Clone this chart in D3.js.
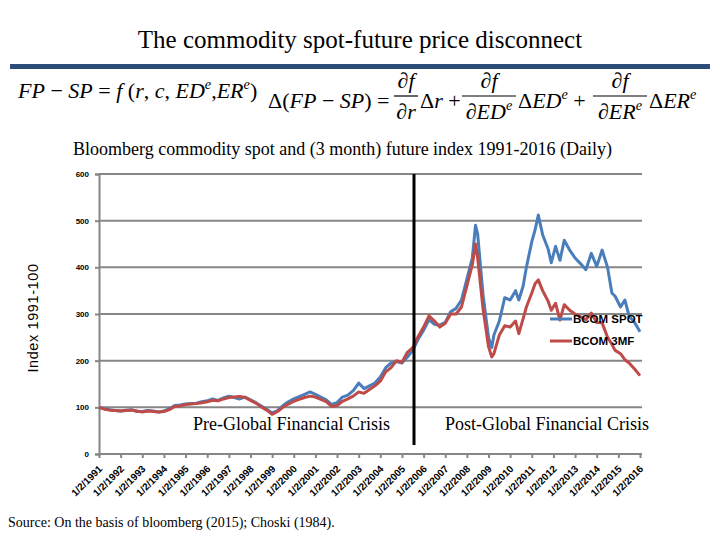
<!DOCTYPE html>
<html><head><meta charset="utf-8">
<script src="https://cdn.jsdelivr.net/npm/d3@7"></script>
<style>body{margin:0;background:#fff}svg{display:block}</style>
</head><body>
<script>
// ---- data (decimal year, BCOM SPOT, BCOM 3MF) ----
const years = [1991,1991.25,1991.5,1991.75,1992,1992.25,1992.5,1992.75,1993,1993.25,1993.5,1993.75,1994,1994.25,1994.5,1994.75,1995,1995.25,1995.5,1995.75,1996,1996.25,1996.5,1996.75,1997,1997.25,1997.5,1997.75,1998,1998.25,1998.5,1998.75,1999,1999.25,1999.5,1999.75,2000,2000.25,2000.5,2000.75,2001,2001.25,2001.5,2001.75,2002,2002.25,2002.5,2002.75,2003,2003.25,2003.5,2003.75,2004,2004.25,2004.5,2004.75,2005,2005.25,2005.5,2005.75,2006,2006.25,2006.5,2006.75,2007,2007.25,2007.5,2007.75,2008,2008.25,2008.4,2008.5,2008.75,2009,2009.15,2009.25,2009.5,2009.75,2010,2010.25,2010.4,2010.6,2010.75,2011,2011.15,2011.3,2011.5,2011.75,2011.9,2012.1,2012.3,2012.5,2012.75,2013,2013.25,2013.5,2013.75,2014,2014.25,2014.5,2014.7,2014.85,2015.1,2015.3,2015.5,2015.75,2016];
const spot = [100,97,95,93,92,94,95,91,91,93,92,90,92,97,104,105,107,108,109,112,114,118,115,120,124,121,118,122,116,110,103,96,88,93,104,112,118,123,128,133,128,122,116,106,110,122,126,136,152,140,146,152,165,185,195,198,195,208,222,246,265,288,278,276,282,305,312,330,375,420,490,470,340,250,228,255,285,335,330,350,330,360,400,455,480,512,470,440,410,445,415,458,437,420,408,395,430,402,437,400,345,338,315,330,295,282,262];
const fut = [100,96,94,93,92,93,94,92,90,92,91,90,91,95,102,103,106,107,108,110,112,115,114,118,121,122,123,121,115,109,101,94,85,91,100,107,113,117,121,124,122,117,112,102,104,113,118,124,133,130,138,146,156,176,185,200,196,218,228,252,272,296,285,272,280,300,300,315,360,405,450,420,310,230,208,215,255,275,272,285,258,290,315,345,365,373,350,328,308,323,287,320,308,300,294,288,302,282,281,250,235,222,215,202,195,182,168];
const yTicks = [0,100,200,300,400,500,600];
const xTickYears = d3.range(1991, 2017);
const seriesNames = ["BCOM SPOT","BCOM 3MF"];
const seriesColors = ["#4a7ebb","#be4b48"];

const W = 720, H = 540;
const svg = d3.select("body").append("svg").attr("width", W).attr("height", H);

const x = d3.scaleLinear().domain([1991, 2016]).range([99, 640]);
const y = d3.scaleLinear().domain([0, 600]).range([454, 174]);

const serif = "Liberation Serif, Times New Roman, serif";
const sans = "Liberation Sans, Arial, sans-serif";

// title
svg.append("text").attr("x", 360).attr("y", 48).attr("text-anchor", "middle")
  .attr("font-family", serif).attr("font-size", 25)
  .text("The commodity spot-future price disconnect");
svg.append("rect").attr("x", 10).attr("y", 64).attr("width", 700).attr("height", 5).attr("fill", "#2c4d78");

// formulas
function t(xp, yp, size, anchor, parts) {
  const el = svg.append("text").attr("x", xp).attr("y", yp).attr("font-size", size)
    .attr("font-family", serif).attr("text-anchor", anchor || "start");
  parts.forEach(p => {
    const s = el.append("tspan").text(p[0]);
    if (p[1] === "i") s.attr("font-style", "italic");
    if (p[1] === "sup") s.attr("font-style", "italic").attr("font-size", size * 0.65).attr("dy", -size * 0.4);
    if (p[2] === "down") s.attr("dy", size * 0.4);
  });
  return el;
}
t(18, 98, 22, "start", [["FP","i"],[" − "],["SP","i"],[" = "],["f","i"],[" ("],["r","i"],[", "],["c","i"],[", "],["ED","i"],["e","sup"],[",","", "down"],["ER","i"],["e","sup"],[")","", "down"]]);
t(268, 108, 22, "start", [["Δ("],["FP","i"],[" − "],["SP","i"],[") ="]]);
function frac(cx, den) {
  t(cx, 88, 22, "middle", [["∂"],["f","i"]]);
  svg.append("line").attr("x1", cx - (den.length > 1 ? 27 : 12)).attr("x2", cx + (den.length > 1 ? 27 : 12))
    .attr("y1", 96).attr("y2", 96).attr("stroke", "#000").attr("stroke-width", 1.2);
  const parts = [["∂"],[den[0],"i"]];
  if (den.length > 1) parts.push(["e","sup"]);
  t(cx, 119, 22, "middle", parts);
}
frac(406, ["r"]);
t(420, 108, 22, "start", [["Δ"],["r","i"],["  +"]]);
frac(489, ["ED","e"]);
t(518, 108, 22, "start", [["Δ"],["ED","i"],["e","sup"],["  +","","down"]]);
frac(620, ["ER","e"]);
t(649, 108, 22, "start", [["Δ"],["ER","i"],["e","sup"]]);

// subtitle
svg.append("text").attr("x", 73).attr("y", 155)
  .attr("font-family", serif).attr("font-size", 18)
  .text("Bloomberg commodity spot and (3 month) future index 1991-2016 (Daily)");

// gridlines
svg.append("g").selectAll("line").data(yTicks.slice(1)).join("line")
  .attr("x1", 99).attr("x2", 642).attr("y1", d => y(d)).attr("y2", d => y(d))
  .attr("stroke", "#868686").attr("stroke-width", 2);

// y axis
const ya = svg.append("g").attr("transform", "translate(99,0)")
  .call(d3.axisLeft(y).tickValues(yTicks).tickSize(4).tickPadding(6));
ya.select(".domain").attr("stroke", "#868686").attr("stroke-width", 2);
ya.selectAll(".tick line").attr("stroke", "#868686").attr("stroke-width", 2);
ya.selectAll("text").attr("font-family", sans).attr("font-size", 8).attr("font-weight", "bold").attr("fill", "#000");

// x axis
const xa = svg.append("g").attr("transform", "translate(0,454)")
  .call(d3.axisBottom(x).tickValues(xTickYears).tickFormat(d => "1/2/" + d).tickSize(4).tickSizeOuter(0));
xa.select(".domain").attr("stroke", "#868686").attr("stroke-width", 2).attr("d", "M99,0H642");
xa.selectAll(".tick line").attr("stroke", "#868686").attr("stroke-width", 2);
xa.selectAll(".tick text").attr("font-family", sans).attr("font-size", 10).attr("font-weight", "bold").attr("fill", "#000")
  .attr("text-anchor", "end").attr("x", 0).attr("y", 0).attr("dy", "0.35em")
  .attr("transform", "translate(1,13) rotate(-45)");

// y label
svg.append("text").attr("transform", "translate(38,318) rotate(-90)").attr("text-anchor", "middle")
  .attr("font-family", sans).attr("font-size", 14.5).attr("letter-spacing", 0.6)
  .text("Index 1991-100");

// lines
const line = d3.line().x((d, i) => x(years[i])).y(d => y(d));
[spot, fut].forEach((s, k) => {
  svg.append("path").datum(s).attr("d", line).attr("fill", "none")
    .attr("stroke", seriesColors[k]).attr("stroke-width", 3).attr("stroke-linejoin", "round");
});

// crisis divider
svg.append("line").attr("x1", 414).attr("x2", 414).attr("y1", 174).attr("y2", 445).attr("stroke", "#000").attr("stroke-width", 3);

// annotations
svg.append("text").attr("x", 193).attr("y", 430).attr("font-family", serif).attr("font-size", 18).text("Pre-Global Financial Crisis");
svg.append("text").attr("x", 445).attr("y", 430).attr("font-family", serif).attr("font-size", 18).text("Post-Global Financial Crisis");

// legend
seriesNames.forEach((n, k) => {
  const ly = 319 + k * 22;
  svg.append("line").attr("x1", 550).attr("x2", 572).attr("y1", ly).attr("y2", ly).attr("stroke", seriesColors[k]).attr("stroke-width", 3);
  svg.append("text").attr("x", 573).attr("y", ly + 4).attr("font-family", sans)
    .attr("font-size", 11.5).attr("font-weight", "bold").text(n);
});

// source
svg.append("text").attr("x", 8).attr("y", 527).attr("font-family", serif).attr("font-size", 14)
  .text("Source: On the basis of bloomberg (2015); Choski (1984).");
</script>
</body></html>
